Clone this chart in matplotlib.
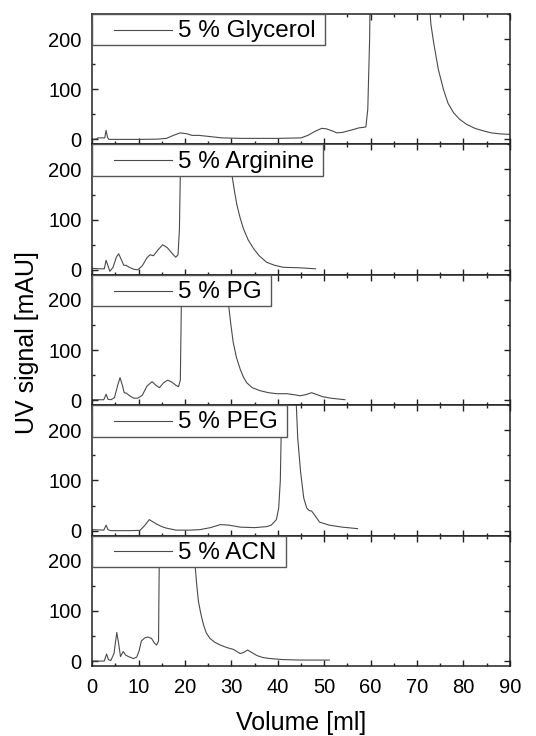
import matplotlib
matplotlib.use('Agg')
import matplotlib.pyplot as plt
from matplotlib.patches import Rectangle
from matplotlib.ticker import MultipleLocator

plt.rcParams['font.family'] = ['Liberation Sans', 'DejaVu Sans']

labels = ['5 % Glycerol', '5 % Arginine', '5 % PG', '5 % PEG', '5 % ACN']

vol_glycerol = [0, 1.0, 1.2, 2.7, 3.0, 3.3, 3.6, 6, 10, 14, 16, 17.5, 19, 20.5, 21.5, 23, 25, 28,
                32, 40, 45, 46.5, 48, 49.5, 50.5, 52, 52.7, 54, 56, 57.5, 58.5, 59.0, 59.4, 59.8,
                60.3, 62, 66, 70, 72.5, 73.0, 73.6, 74.6, 75.7, 76.7, 77.9, 79.2, 80.7, 82.5,
                84.3, 86, 87.9, 90]
uv_glycerol = [0, 1, 3, 3, 18, 4, 0, 0, 0, 0.5, 2, 8, 13, 11, 8, 8, 6, 3,
               2, 2, 3, 8, 16, 22, 21, 16, 13, 14, 19, 23, 24, 25, 60, 200,
               600, 1200, 1500, 1200, 300, 230, 193, 140, 100, 72, 53, 40, 30, 22,
               17, 13, 11, 10]

vol_arginine = [0, 1.5, 2.6, 3.0, 3.4, 3.8, 4.5, 5.2, 5.7, 6.2, 6.8, 7.3, 8.0, 9.0, 9.8, 10.8,
                11.8, 12.5, 13.2, 14.2, 15.2, 16.2, 17.2, 18.0, 18.5, 18.8, 19.1, 19.5, 21, 25,
                28, 29.5, 30.1, 30.7, 31.2, 31.9, 32.6, 33.6, 34.8, 36.0, 37.6, 39.3, 41.2,
                44.8, 48.1]
uv_arginine = [3, 2, 2, 19, 8, -3, 5, 25, 32, 22, 9, 9, 5, 1, 0, 8,
               24, 30, 28, 40, 50, 44, 33, 25, 30, 80, 250, 600, 1200, 1500,
               900, 400, 190, 155, 129, 103, 82, 60, 42, 28, 15, 9, 5,
               4, 2]

vol_pg = [0, 2.5, 3.0, 3.4, 4.0, 4.8, 5.5, 6.0, 6.5, 6.9, 7.4, 8.2, 9.0, 9.8, 10.8, 11.8,
          12.9, 13.7, 14.5, 15.4, 16.3, 17.2, 18.0, 18.6, 19.0, 19.3, 19.7, 21, 25, 28,
          29.0, 29.4, 29.9, 30.4, 31.1, 31.9, 32.6, 33.3, 34.5, 36.2, 38, 39.8, 42, 43.5,
          44.8, 46, 47.3, 48.5, 49.7, 51.5, 54.5]
uv_pg = [1, 1, 12, 2, 1, 5, 30, 45, 30, 15, 14, 8, 4, 4, 10, 28,
         37, 30, 25, 35, 40, 36, 30, 27, 40, 250, 700, 1300, 1500, 800,
         300, 190, 150, 115, 85, 62, 46, 35, 25, 19, 15, 13, 13, 11,
         9, 11, 15, 11, 7, 4, 1]

vol_peg = [0, 2.5, 3.0, 3.4, 4, 8, 10.3, 11.3, 12.3, 13.0, 13.9, 15, 16, 18.1, 21, 23.2,
           25.5, 27.6, 29.5, 31.9, 35, 37.6, 38.6, 39.7, 40.2, 40.55, 40.75, 41.2, 42.5, 43.5,
           44.0, 44.3, 44.9, 45.6, 46.25, 46.8, 47.3, 47.8, 49.0, 51.1, 53.9, 57.2]
uv_peg = [2, 1, 11, 2, 0, 0, 0.5, 10, 22, 18, 13, 8, 5, 1, 1, 2,
          6, 12, 11, 7, 6, 8, 11, 22, 45, 100, 200, 500, 900, 700,
          250, 185, 119, 65, 45, 40, 39, 33, 17, 11, 7, 4]

vol_acn = [0, 2.6, 3.1, 3.5, 4.0, 4.7, 5.3, 5.7, 6.1, 6.7, 7.2, 7.8, 8.9, 9.6, 10.1, 10.6,
           11.3, 12.0, 12.8, 13.4, 13.9, 14.3, 14.5, 14.8, 16, 19, 21.5, 22.1, 22.5, 22.9,
           23.4, 24.0, 24.6, 25.4, 26.5, 27.6, 29, 30.5, 31.2, 31.9, 32.6, 33.5, 34.4, 35.5,
           36.8, 38.4, 41, 44.8, 48, 51.1]
uv_acn = [0, 0, 14, 3, 1, 15, 57, 35, 9, 19, 12, 9, 5, 8, 20, 40,
          46, 48, 45, 36, 32, 40, 250, 700, 1300, 1500, 400, 200, 155, 119,
          95, 72, 56, 45, 37, 32, 27, 23, 19, 15, 17, 22, 17, 11,
          7, 5, 3, 2, 2, 2]

volumes = [vol_glycerol, vol_arginine, vol_pg, vol_peg, vol_acn]
signals = [uv_glycerol, uv_arginine, uv_pg, uv_peg, uv_acn]

fig, axes = plt.subplots(5, 1, figsize=(5.36, 7.36), dpi=100, sharex=True)
fig.subplots_adjust(left=0.172, right=0.951, top=0.981, bottom=0.095, hspace=0)

line_color = '#4a4a4a'
for ax, x, y in zip(axes, volumes, signals):
    ax.plot(x, y, color=line_color, linewidth=0.8, zorder=2)
    ax.set_xlim(0, 90)
    ax.set_ylim(-10, 250)
    ax.set_yticks([0, 100, 200])
    ax.yaxis.set_minor_locator(MultipleLocator(50))
    ax.xaxis.set_major_locator(MultipleLocator(10))
    ax.xaxis.set_minor_locator(MultipleLocator(5))
    ax.tick_params(which='both', direction='in', top=True, right=True,
                   labelsize=14.5, width=1.0, color='#222222')
    ax.tick_params(which='major', length=4.5)
    ax.tick_params(which='minor', length=2.5)
    ax.tick_params(axis='y', pad=7.5)
    ax.tick_params(axis='x', pad=8.5)
    for s in ax.spines.values():
        s.set_linewidth(1.1)
        s.set_color('#222222')

# legend boxes drawn by hand so the padding matches the original
fig.canvas.draw()
renderer = fig.canvas.get_renderer()
for ax, lab in zip(axes, labels):
    bb = ax.get_window_extent(renderer)
    w, h = bb.width, bb.height
    box_h = 31.5 / h
    yc = 1 - box_h / 2
    ax.plot([22 / w, 80 / w], [yc, yc], transform=ax.transAxes, color=line_color,
            linewidth=0.8, zorder=6, clip_on=False)
    t = ax.text(86 / w, yc - 1.5 / h, lab, transform=ax.transAxes, fontsize=17.5,
                va='center', ha='left', zorder=6)
    tb = t.get_window_extent(renderer)
    box_w = (tb.x1 - bb.x0 + 9) / w
    ax.add_patch(Rectangle((0, 1 - box_h), box_w, box_h, transform=ax.transAxes,
                           facecolor='white', edgecolor='#555555', linewidth=1.0,
                           zorder=5, clip_on=False))

fig.text(0.050, 0.534, 'UV signal [mAU]', rotation=90, fontsize=18,
         ha='center', va='center')
fig.text(0.562, 0.018, 'Volume [ml]', fontsize=18, ha='center', va='center')

fig.savefig('out.png', dpi=100)
